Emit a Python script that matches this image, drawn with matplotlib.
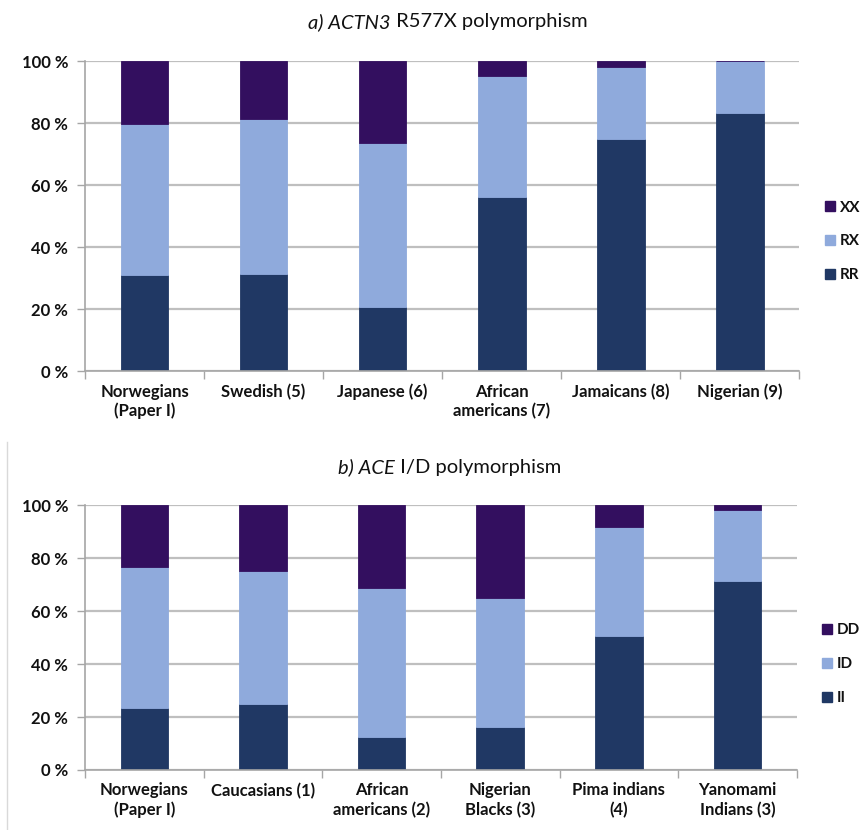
import numpy as np
import matplotlib.pyplot as plt
from matplotlib.lines import Line2D

plt.rcParams["font.family"] = ["Lato", "DejaVu Sans"]

# genotype frequencies (%) per population
actn3_groups = [
    "Norwegians\n(Paper I)",
    "Swedish (5)",
    "Japanese (6)",
    "African\namericans (7)",
    "Jamaicans (8)",
    "Nigerian (9)",
]
actn3_rr = [30.9, 31.2, 20.5, 56.1, 75.0, 83.2]
actn3_rx = [48.8, 50.0, 53.1, 39.0, 23.2, 16.8]
actn3_xx = [20.3, 18.8, 26.4, 4.9, 1.8, 0.0]

ace_groups = [
    "Norwegians\n(Paper I)",
    "Caucasians (1)",
    "African\namericans (2)",
    "Nigerian\nBlacks (3)",
    "Pima indians\n(4)",
    "Yanomami\nIndians (3)",
]
ace_ii = [23.5, 24.9, 12.3, 16.1, 50.7, 71.3]
ace_id = [53.0, 50.2, 56.5, 48.8, 41.1, 26.8]
ace_dd = [23.5, 24.9, 31.2, 35.1, 8.2, 1.9]

DARK = "#203864"
LIGHT = "#8FAADC"
PURPLE = "#330F5F"
GRID = "#BFBFBF"
AXIS = "#A6A6A6"
INK = "#111111"


def stacked_panel(ax, groups, series, names, legend_y):
    x = np.arange(len(groups))
    bottom = np.zeros(len(groups))
    handles = []
    for vals, name, col in zip(series, names, [DARK, LIGHT, PURPLE]):
        vals = np.array(vals)
        ax.bar(x, vals, 0.4, bottom=bottom, color=col, edgecolor=col,
               linewidth=0.6, zorder=2)
        bottom += vals
        handles.append(Line2D([], [], marker="s", ls="", color=col,
                              markersize=7, label=name))

    ax.set_xlim(-0.5, len(groups) - 0.5)
    ax.set_ylim(0, 100)
    ax.set_yticks(np.arange(0, 101, 20))
    ax.set_yticklabels([f"{v} %" for v in range(0, 101, 20)])
    ax.yaxis.grid(True, color=GRID, linewidth=1.6, zorder=0)
    ax.set_axisbelow(True)

    ax.set_xticks(x)
    ax.set_xticklabels(groups, fontweight="bold", fontsize=12, linespacing=1.25,
                       va="top")
    ax.set_xticks(np.arange(-0.5, len(groups)), minor=True)
    ax.tick_params(axis="x", which="major", length=0, pad=9, colors=INK)
    ax.tick_params(axis="x", which="minor", length=6, color=AXIS, width=1)
    ax.tick_params(axis="y", length=6, color=AXIS, width=1, pad=6,
                   labelsize=12, colors=INK)
    for lab in ax.get_yticklabels():
        lab.set_fontweight("bold")

    for s in ["top", "right"]:
        ax.spines[s].set_visible(False)
    for s in ["left", "bottom"]:
        ax.spines[s].set_color(AXIS)
        ax.spines[s].set_linewidth(1.2)

    leg = ax.legend(handles=handles[::-1], loc="center left",
                    bbox_to_anchor=(1.035, legend_y), frameon=False,
                    borderaxespad=0, borderpad=0, handlelength=0.7,
                    handletextpad=0.3, labelspacing=1.3,
                    prop={"weight": "bold", "size": 11})
    for t in leg.get_texts():
        t.set_color(INK)


def mixed_title(fig, xc, y, parts, size=14.5):
    renderer = fig.canvas.get_renderer()
    texts = [fig.text(0, y, s, style=st, fontsize=size, va="center",
                      color=INK) for s, st in parts]
    widths = [t.get_window_extent(renderer).width / fig.bbox.width for t in texts]
    x = xc - sum(widths) / 2
    for t, w in zip(texts, widths):
        t.set_x(x)
        x += w


fig = plt.figure(figsize=(8.67, 8.3), dpi=100)

ax1 = fig.add_axes([0.098, 0.553, 0.824, 0.3735])
stacked_panel(ax1, actn3_groups, [actn3_rr, actn3_rx, actn3_xx],
              ["RR", "RX", "XX"], 0.418)

ax2 = fig.add_axes([0.098, 0.0723, 0.821, 0.319])
stacked_panel(ax2, ace_groups, [ace_ii, ace_id, ace_dd],
              ["II", "ID", "DD"], 0.40)

mixed_title(fig, 448 / 867, 1 - 22 / 830,
            [("a) ACTN3", "italic"), (" R577X polymorphism", "normal")])
mixed_title(fig, 450 / 867, 1 - 467 / 830,
            [("b) ACE", "italic"), (" I/D polymorphism", "normal")])

# faint frame edge of the lower chart
fig.add_artist(Line2D([7 / 867, 7 / 867], [0, 1 - 442 / 830],
                      transform=fig.transFigure, color="#D9D9D9", lw=1))

fig.savefig("out.png", dpi=100)
